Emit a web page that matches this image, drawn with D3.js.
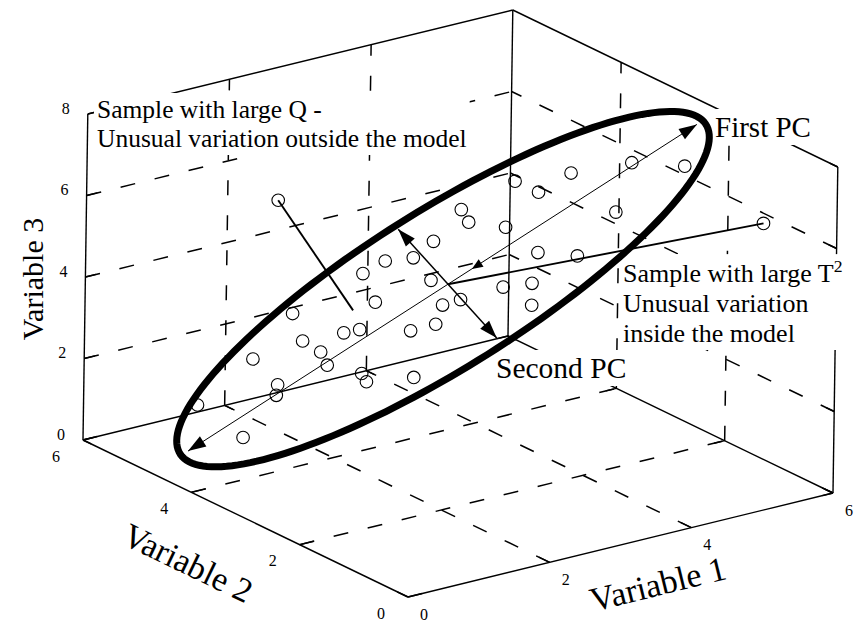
<!DOCTYPE html>
<html>
<head>
<meta charset="utf-8">
<script src="https://cdn.jsdelivr.net/npm/d3@7"></script>
<style>
  html, body { margin: 0; padding: 0; background: #fff; }
  svg { display: block; }
  text { font-family: "Liberation Serif", "DejaVu Serif", serif; fill: #000; }
</style>
</head>
<body>
<svg id="chart" width="857" height="624"></svg>
<script>
// ---- axis ticks and grid positions ----
const var1Ticks = [0, 2, 4, 6];
const var2Ticks = [0, 2, 4, 6];
const var3Ticks = [0, 2, 4, 6, 8];
const var1Grid = [2, 4];
const var2Grid = [2, 4];
const var3Grid = [2, 4, 6];

// ---- PCA model in variable space (Variable 1, Variable 2, Variable 3) ----
const modelCenter = [2.82, 3.0, 4.55];
const pc1Dir = [1.119, -0.1, 0.931];
const pc2Dir = [0.33, -0.5, -1.169];
const pc1Arrow = [-3.05, 2.92];      // score range drawn for the first PC
const pc2Arrow = [-1.0, 0.98];       // score range drawn for the second PC
const limitCenter = [-0.07, 0.02];   // confidence ellipse centre (scores)
const limitRadii = [3.06, 1.08];     // confidence ellipse radii (PC1, PC2 scores)
const pc1Marker = [0.28, 0.08];      // small direction marker on the first PC

// ---- sample scores on PC1 / PC2 ----
const score1 = [-1.35, -1.46, -1.40, -1.44, -1.10, -0.96, -1.95, -1.94, -2.02, -1.24,
                -1.26, -2.55, -2.67, -0.88, -0.56, -0.31, -0.08, 0.18, 0.60, 0.57,
                 1.19, 1.29, 1.66, 2.18, 2.55, 0.81, 1.73, 0.88, 1.15, -0.10,
                -0.01, -0.18, 0.39, 0.63, 0.48, -0.36, -0.59, -0.66];
const score2 = [-0.81, -0.42, -0.16, 0.04, -0.21, -0.13, -0.58, -0.10, 0.01, 0.39,
                 0.52, 0.25, -0.46, 0.82, -0.75, -0.73, -0.56, -0.60, -0.76, -0.56,
                -0.69, -0.39, -0.37, -0.04, 0.39, -0.23, 0.41, 0.30, 0.63, -0.17,
                 0.27, 0.20, 0.44, 0.61, 0.86, 0.37, 0.26, -0.33];

// ---- unusual samples ----
const qSample = [1.17, 4.0, 6.67];     // off the model plane (large Q)
const qProjectionScores = [-0.88, -0.40];
const t2SampleScores = [2.75, 1.63];   // in the plane, far from centre (large T^2)

// ---- oblique projection built from one scale per variable ----
const origin = [408, 597];
const s1 = d3.scaleLinear().domain([0, 6]).range([[0, 0], [425, -104]]);
const s2 = d3.scaleLinear().domain([0, 6]).range([[0, 0], [-325, -157]]);
const s3 = d3.scaleLinear().domain([0, 8]).range([[0, 0], [4.8, -326]]);

function project(v) {
  const [ax, ay] = s1(v[0]);
  const [bx, by] = s2(v[1]);
  const [cx, cy] = s3(v[2]);
  return [origin[0] + ax + bx + cx, origin[1] + ay + by + cy];
}
function modelPoint(t1, t2) {
  return modelCenter.map((c, i) => c + t1 * pc1Dir[i] + t2 * pc2Dir[i]);
}

const svg = d3.select("#chart");
svg.append("rect").attr("width", 857).attr("height", 624).attr("fill", "#fff");

const line = d3.line();
const seg = (a, b) => line([project(a), project(b)]);

// ---- dashed grid on floor and back walls ----
const gridSegs = [];
var1Grid.forEach(g => gridSegs.push([[g, 0, 0], [g, 6, 0]]));
var2Grid.forEach(g => gridSegs.push([[0, g, 0], [6, g, 0]]));
var3Grid.forEach(g => gridSegs.push([[0, 6, g], [6, 6, g]]));
var1Grid.forEach(g => gridSegs.push([[g, 6, 0], [g, 6, 8]]));
var3Grid.forEach(g => gridSegs.push([[6, 0, g], [6, 6, g]]));
var2Grid.forEach(g => gridSegs.push([[6, g, 0], [6, g, 8]]));

svg.append("g").selectAll("path").data(gridSegs).join("path")
  .attr("d", d => seg(d[0], d[1]))
  .attr("fill", "none").attr("stroke", "#000").attr("stroke-width", 1.5)
  .attr("stroke-dasharray", "15,20");

// ---- box edges ----
const edges = [
  [[0, 6, 0], [0, 6, 8]], [[0, 6, 0], [0, 0, 0]], [[0, 0, 0], [6, 0, 0]],
  [[6, 0, 0], [6, 0, 8]], [[6, 0, 8], [6, 6, 8]], [[6, 6, 8], [0, 6, 8]],
  [[6, 6, 0], [6, 6, 8]], [[6, 0, 0], [6, 6, 0]], [[0, 6, 0], [6, 6, 0]]
];
svg.append("g").selectAll("path").data(edges).join("path")
  .attr("d", d => seg(d[0], d[1]))
  .attr("fill", "none").attr("stroke", "#000").attr("stroke-width", 1.4);

// ---- tick marks ----
const tickSegs = [];
var3Ticks.forEach(t => tickSegs.push([[0, 6, t], [0.15, 6, t]]));
var3Ticks.forEach(t => tickSegs.push([[6, 0, t], [6, 0.15, t]]));
var1Ticks.forEach(t => tickSegs.push([[t, 0, 0], [t, 0.2, 0]]));
var1Ticks.forEach(t => tickSegs.push([[t, 6, 0], [t, 5.85, 0]]));
var2Ticks.forEach(t => tickSegs.push([[0, t, 0], [0.2, t, 0]]));
var2Ticks.forEach(t => tickSegs.push([[6, t, 0], [5.85, t, 0]]));
svg.append("g").selectAll("path").data(tickSegs).join("path")
  .attr("d", d => seg(d[0], d[1]))
  .attr("stroke", "#000").attr("stroke-width", 1.4);

// ---- tick labels ----
const tickFont = 16;
svg.append("g").selectAll("text").data(var3Ticks).join("text")
  .attr("x", d => project([0, 6, d])[0] - 22)
  .attr("y", d => project([0, 6, d])[1] - 6)
  .attr("text-anchor", "middle").attr("dominant-baseline", "central")
  .attr("font-size", tickFont).text(d => d);
svg.append("g").selectAll("text").data(var2Ticks).join("text")
  .attr("x", d => project([0, d, 0])[0] - 27)
  .attr("y", d => project([0, d, 0])[1] + 16)
  .attr("text-anchor", "middle").attr("dominant-baseline", "central")
  .attr("font-size", tickFont).text(d => d);
svg.append("g").selectAll("text").data(var1Ticks).join("text")
  .attr("x", d => project([d, 0, 0])[0] + 16)
  .attr("y", d => project([d, 0, 0])[1] + 17)
  .attr("text-anchor", "middle").attr("dominant-baseline", "central")
  .attr("font-size", tickFont).text(d => d);

// ---- axis titles ----
svg.append("text").attr("transform", "translate(43,279) rotate(-90)")
  .attr("text-anchor", "middle").attr("font-size", 30).text("Variable 3");
svg.append("text").attr("transform", "translate(188,563) rotate(25.8)")
  .attr("text-anchor", "middle").attr("dominant-baseline", "central")
  .attr("font-size", 34).text("Variable 2");
svg.append("text").attr("transform", "translate(658,584) rotate(-13.8)")
  .attr("text-anchor", "middle").attr("dominant-baseline", "central")
  .attr("font-size", 34).text("Variable 1");

// ---- annotation labels on white plates ----
const notes = svg.append("g");
function note(lines, x, y0, step, size) {
  const g = notes.append("g");
  const plate = g.append("rect").attr("fill", "#fff");
  lines.forEach((ln, i) => {
    const t = g.append("text").attr("x", x).attr("y", y0 + i * step).attr("font-size", size);
    ln.forEach(part => {
      const sp = t.append("tspan").text(part.text);
      if (part.sup) sp.attr("font-size", size * 0.68).attr("dy", -size * 0.38);
    });
  });
  const bb = g.node().getBBox();
  plate.attr("x", bb.x - 3).attr("y", bb.y - 2).attr("width", bb.width + 6).attr("height", bb.height + 4);
}
note([[{text: "Sample with large Q -"}], [{text: "Unusual variation outside the model"}]], 97, 118, 29, 25.5);
note([[{text: "First PC"}]], 715, 137, 0, 29);
note([[{text: "Sample with large T"}, {text: "2", sup: true}],
      [{text: "Unusual variation"}], [{text: "inside the model"}]], 623, 282, 30, 26);
note([[{text: "Second PC"}]], 496, 378, 0, 29.5);

// ---- model, samples and outliers ----
const data = svg.append("g");

// projection of the large-Q sample onto the model plane
data.append("path")
  .attr("d", line([project(qSample), project(modelPoint(...qProjectionScores))]))
  .attr("stroke", "#000").attr("stroke-width", 1.9);

// distance of the large-T^2 sample from the model centre
data.append("path")
  .attr("d", line([project(modelPoint(...t2SampleScores)), project(modelCenter)]))
  .attr("stroke", "#000").attr("stroke-width", 1.9);

// principal component axes with arrowheads at both ends
function arrowHead(tip, from, len, half) {
  const dx = tip[0] - from[0], dy = tip[1] - from[1];
  const L = Math.hypot(dx, dy), ux = dx / L, uy = dy / L;
  const bx = tip[0] - ux * len, by = tip[1] - uy * len;
  return `M${tip[0]},${tip[1]}L${bx - uy * half},${by + ux * half}L${bx + uy * half},${by - ux * half}Z`;
}
function pcAxis(range, which, width) {
  const a = project(which === 1 ? modelPoint(range[0], 0) : modelPoint(0, range[0]));
  const b = project(which === 1 ? modelPoint(range[1], 0) : modelPoint(0, range[1]));
  data.append("path").attr("d", line([a, b])).attr("stroke", "#000").attr("stroke-width", width);
  data.append("path").attr("d", arrowHead(a, b, 18, 6)).attr("fill", "#000");
  data.append("path").attr("d", arrowHead(b, a, 18, 6)).attr("fill", "#000");
}
pcAxis(pc1Arrow, 1, 1);
pcAxis(pc2Arrow, 2, 1.5);

// small marker pointing back towards the centre along the first PC
data.append("path")
  .attr("d", arrowHead(project(modelPoint(pc1Marker[0], 0)), project(modelPoint(pc1Marker[1] + pc1Marker[0], 0)), 11, 4.5))
  .attr("fill", "#000");

// sample points
const samples = score1.map((t, i) => modelPoint(t, score2[i]));
samples.push(qSample, modelPoint(...t2SampleScores));
data.append("g").selectAll("circle").data(samples).join("circle")
  .attr("cx", d => project(d)[0]).attr("cy", d => project(d)[1])
  .attr("r", 6.3).attr("fill", "none").attr("stroke", "#000").attr("stroke-width", 1.1);

// confidence ellipse in the model plane
const theta = d3.range(0, 361, 2).map(d => d * Math.PI / 180);
const ellipse = theta.map(a => project(modelPoint(
  limitCenter[0] + limitRadii[0] * Math.cos(a),
  limitCenter[1] + limitRadii[1] * Math.sin(a))));
data.append("path").attr("d", d3.line().curve(d3.curveLinearClosed)(ellipse))
  .attr("fill", "none").attr("stroke", "#000").attr("stroke-width", 7);
</script>
</body>
</html>
